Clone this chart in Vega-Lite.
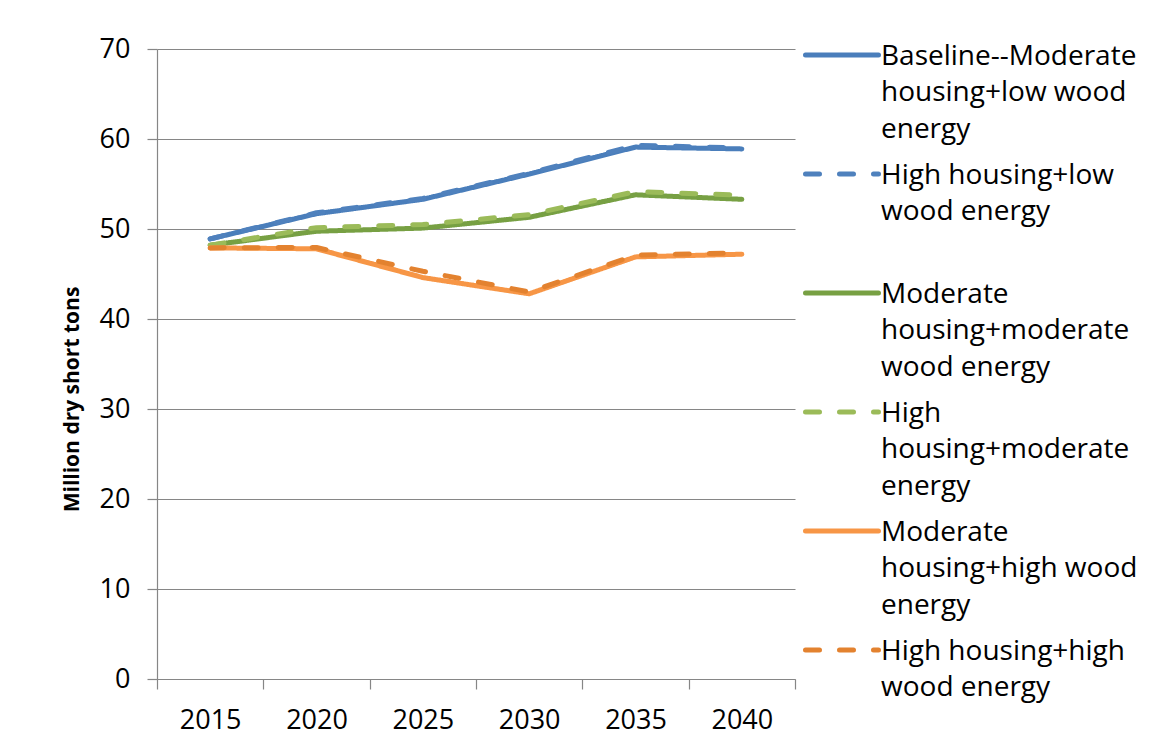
{
  "$schema": "https://vega.github.io/schema/vega-lite/v6.json",
  "width": 638,
  "height": 630,
  "autosize": {"type": "none"},
  "padding": {"left": 157, "top": 49, "right": 357, "bottom": 77},
  "background": "white",
  "config": {
    "view": {"stroke": null},
    "font": "Open Sans"
  },
  "data": {
    "values": [
      {"series": "Baseline--Moderate|housing+low wood|energy", "year": "2015", "value": 48.9},
      {"series": "Baseline--Moderate|housing+low wood|energy", "year": "2020", "value": 51.7},
      {"series": "Baseline--Moderate|housing+low wood|energy", "year": "2025", "value": 53.3},
      {"series": "Baseline--Moderate|housing+low wood|energy", "year": "2030", "value": 56.1},
      {"series": "Baseline--Moderate|housing+low wood|energy", "year": "2035", "value": 59.1},
      {"series": "Baseline--Moderate|housing+low wood|energy", "year": "2040", "value": 58.9},
      {"series": "High housing+low|wood energy|", "year": "2015", "value": 48.9},
      {"series": "High housing+low|wood energy|", "year": "2020", "value": 51.8},
      {"series": "High housing+low|wood energy|", "year": "2025", "value": 53.4},
      {"series": "High housing+low|wood energy|", "year": "2030", "value": 56.2},
      {"series": "High housing+low|wood energy|", "year": "2035", "value": 59.3},
      {"series": "High housing+low|wood energy|", "year": "2040", "value": 59.0},
      {"series": "Moderate|housing+moderate|wood energy", "year": "2015", "value": 48.2},
      {"series": "Moderate|housing+moderate|wood energy", "year": "2020", "value": 49.75},
      {"series": "Moderate|housing+moderate|wood energy", "year": "2025", "value": 50.1},
      {"series": "Moderate|housing+moderate|wood energy", "year": "2030", "value": 51.3},
      {"series": "Moderate|housing+moderate|wood energy", "year": "2035", "value": 53.8},
      {"series": "Moderate|housing+moderate|wood energy", "year": "2040", "value": 53.3},
      {"series": "High|housing+moderate|energy", "year": "2015", "value": 48.2},
      {"series": "High|housing+moderate|energy", "year": "2020", "value": 50.15},
      {"series": "High|housing+moderate|energy", "year": "2025", "value": 50.5},
      {"series": "High|housing+moderate|energy", "year": "2030", "value": 51.6},
      {"series": "High|housing+moderate|energy", "year": "2035", "value": 54.15},
      {"series": "High|housing+moderate|energy", "year": "2040", "value": 53.75},
      {"series": "Moderate|housing+high wood|energy", "year": "2015", "value": 47.9},
      {"series": "Moderate|housing+high wood|energy", "year": "2020", "value": 47.8},
      {"series": "Moderate|housing+high wood|energy", "year": "2025", "value": 44.6},
      {"series": "Moderate|housing+high wood|energy", "year": "2030", "value": 42.8},
      {"series": "Moderate|housing+high wood|energy", "year": "2035", "value": 46.9},
      {"series": "Moderate|housing+high wood|energy", "year": "2040", "value": 47.2},
      {"series": "High housing+high|wood energy", "year": "2015", "value": 47.9},
      {"series": "High housing+high|wood energy", "year": "2020", "value": 47.95},
      {"series": "High housing+high|wood energy", "year": "2025", "value": 45.3},
      {"series": "High housing+high|wood energy", "year": "2030", "value": 43.0},
      {"series": "High housing+high|wood energy", "year": "2035", "value": 47.1},
      {"series": "High housing+high|wood energy", "year": "2040", "value": 47.35}
    ]
  },
  "mark": {"type": "line", "strokeWidth": 5, "strokeCap": "round", "strokeJoin": "round"},
  "encoding": {
    "x": {
      "field": "year",
      "type": "ordinal",
      "scale": {"type": "band", "paddingInner": 0, "paddingOuter": 0},
      "axis": {
        "title": null,
        "tickBand": "extent",
        "grid": false,
        "labelAngle": 0,
        "domainColor": "#868686",
        "domainWidth": 1.2,
        "tickColor": "#868686",
        "tickWidth": 1.2,
        "tickSize": 10,
        "labelFontSize": 27,
        "labelColor": "black",
        "labelPadding": 18
      }
    },
    "y": {
      "field": "value",
      "type": "quantitative",
      "scale": {"domain": [0, 70], "nice": false},
      "axis": {
        "values": [0, 10, 20, 30, 40, 50, 60, 70],
        "grid": true,
        "gridColor": "#868686",
        "gridWidth": 1.2,
        "domainColor": "#868686",
        "domainWidth": 1.2,
        "tickColor": "#868686",
        "tickWidth": 1.2,
        "tickSize": 10,
        "labelFontSize": 27,
        "labelColor": "black",
        "labelPadding": 17,
        "title": "Million dry short tons",
        "titleFontSize": 21,
        "titleFontWeight": "bold",
        "titleColor": "black",
        "titleAngle": 270,
        "titleAlign": "center",
        "titleBaseline": "middle",
        "titleX": -85,
        "titleY": 350
      }
    },
    "color": {
      "field": "series",
      "type": "nominal",
      "sort": null,
      "scale": {
        "domain": [
          "Baseline--Moderate|housing+low wood|energy",
          "High housing+low|wood energy|",
          "Moderate|housing+moderate|wood energy",
          "High|housing+moderate|energy",
          "Moderate|housing+high wood|energy",
          "High housing+high|wood energy"
        ],
        "range": ["#4a7ebb", "#4f81bd", "#77a043", "#9bbb59", "#f79646", "#e3822f"]
      },
      "legend": {
        "title": null,
        "orient": "none",
        "legendX": 646,
        "legendY": -23.5,
        "padding": 0,
        "labelExpr": "split(datum.label, '|')",
        "labelFontSize": 28,
        "labelColor": "black",
        "labelBaseline": "alphabetic",
        "labelLimit": 400,
        "labelOffset": 0,
        "symbolType": "M-1,-0.26H1",
        "symbolSize": 5329,
        "symbolStrokeWidth": 5,
        "rowPadding": 0,
        "encode": {
          "labels": {"update": {"lineHeight": {"value": 36.6}}},
          "symbols": {"update": {"strokeCap": {"value": "round"}}}
        }
      }
    },
    "strokeDash": {
      "field": "series",
      "type": "nominal",
      "sort": null,
      "scale": {
        "domain": [
          "Baseline--Moderate|housing+low wood|energy",
          "High housing+low|wood energy|",
          "Moderate|housing+moderate|wood energy",
          "High|housing+moderate|energy",
          "Moderate|housing+high wood|energy",
          "High housing+high|wood energy"
        ],
        "range": [[1, 0], [14, 20], [1, 0], [14, 20], [1, 0], [14, 20]]
      },
      "legend": null
    }
  }
}
